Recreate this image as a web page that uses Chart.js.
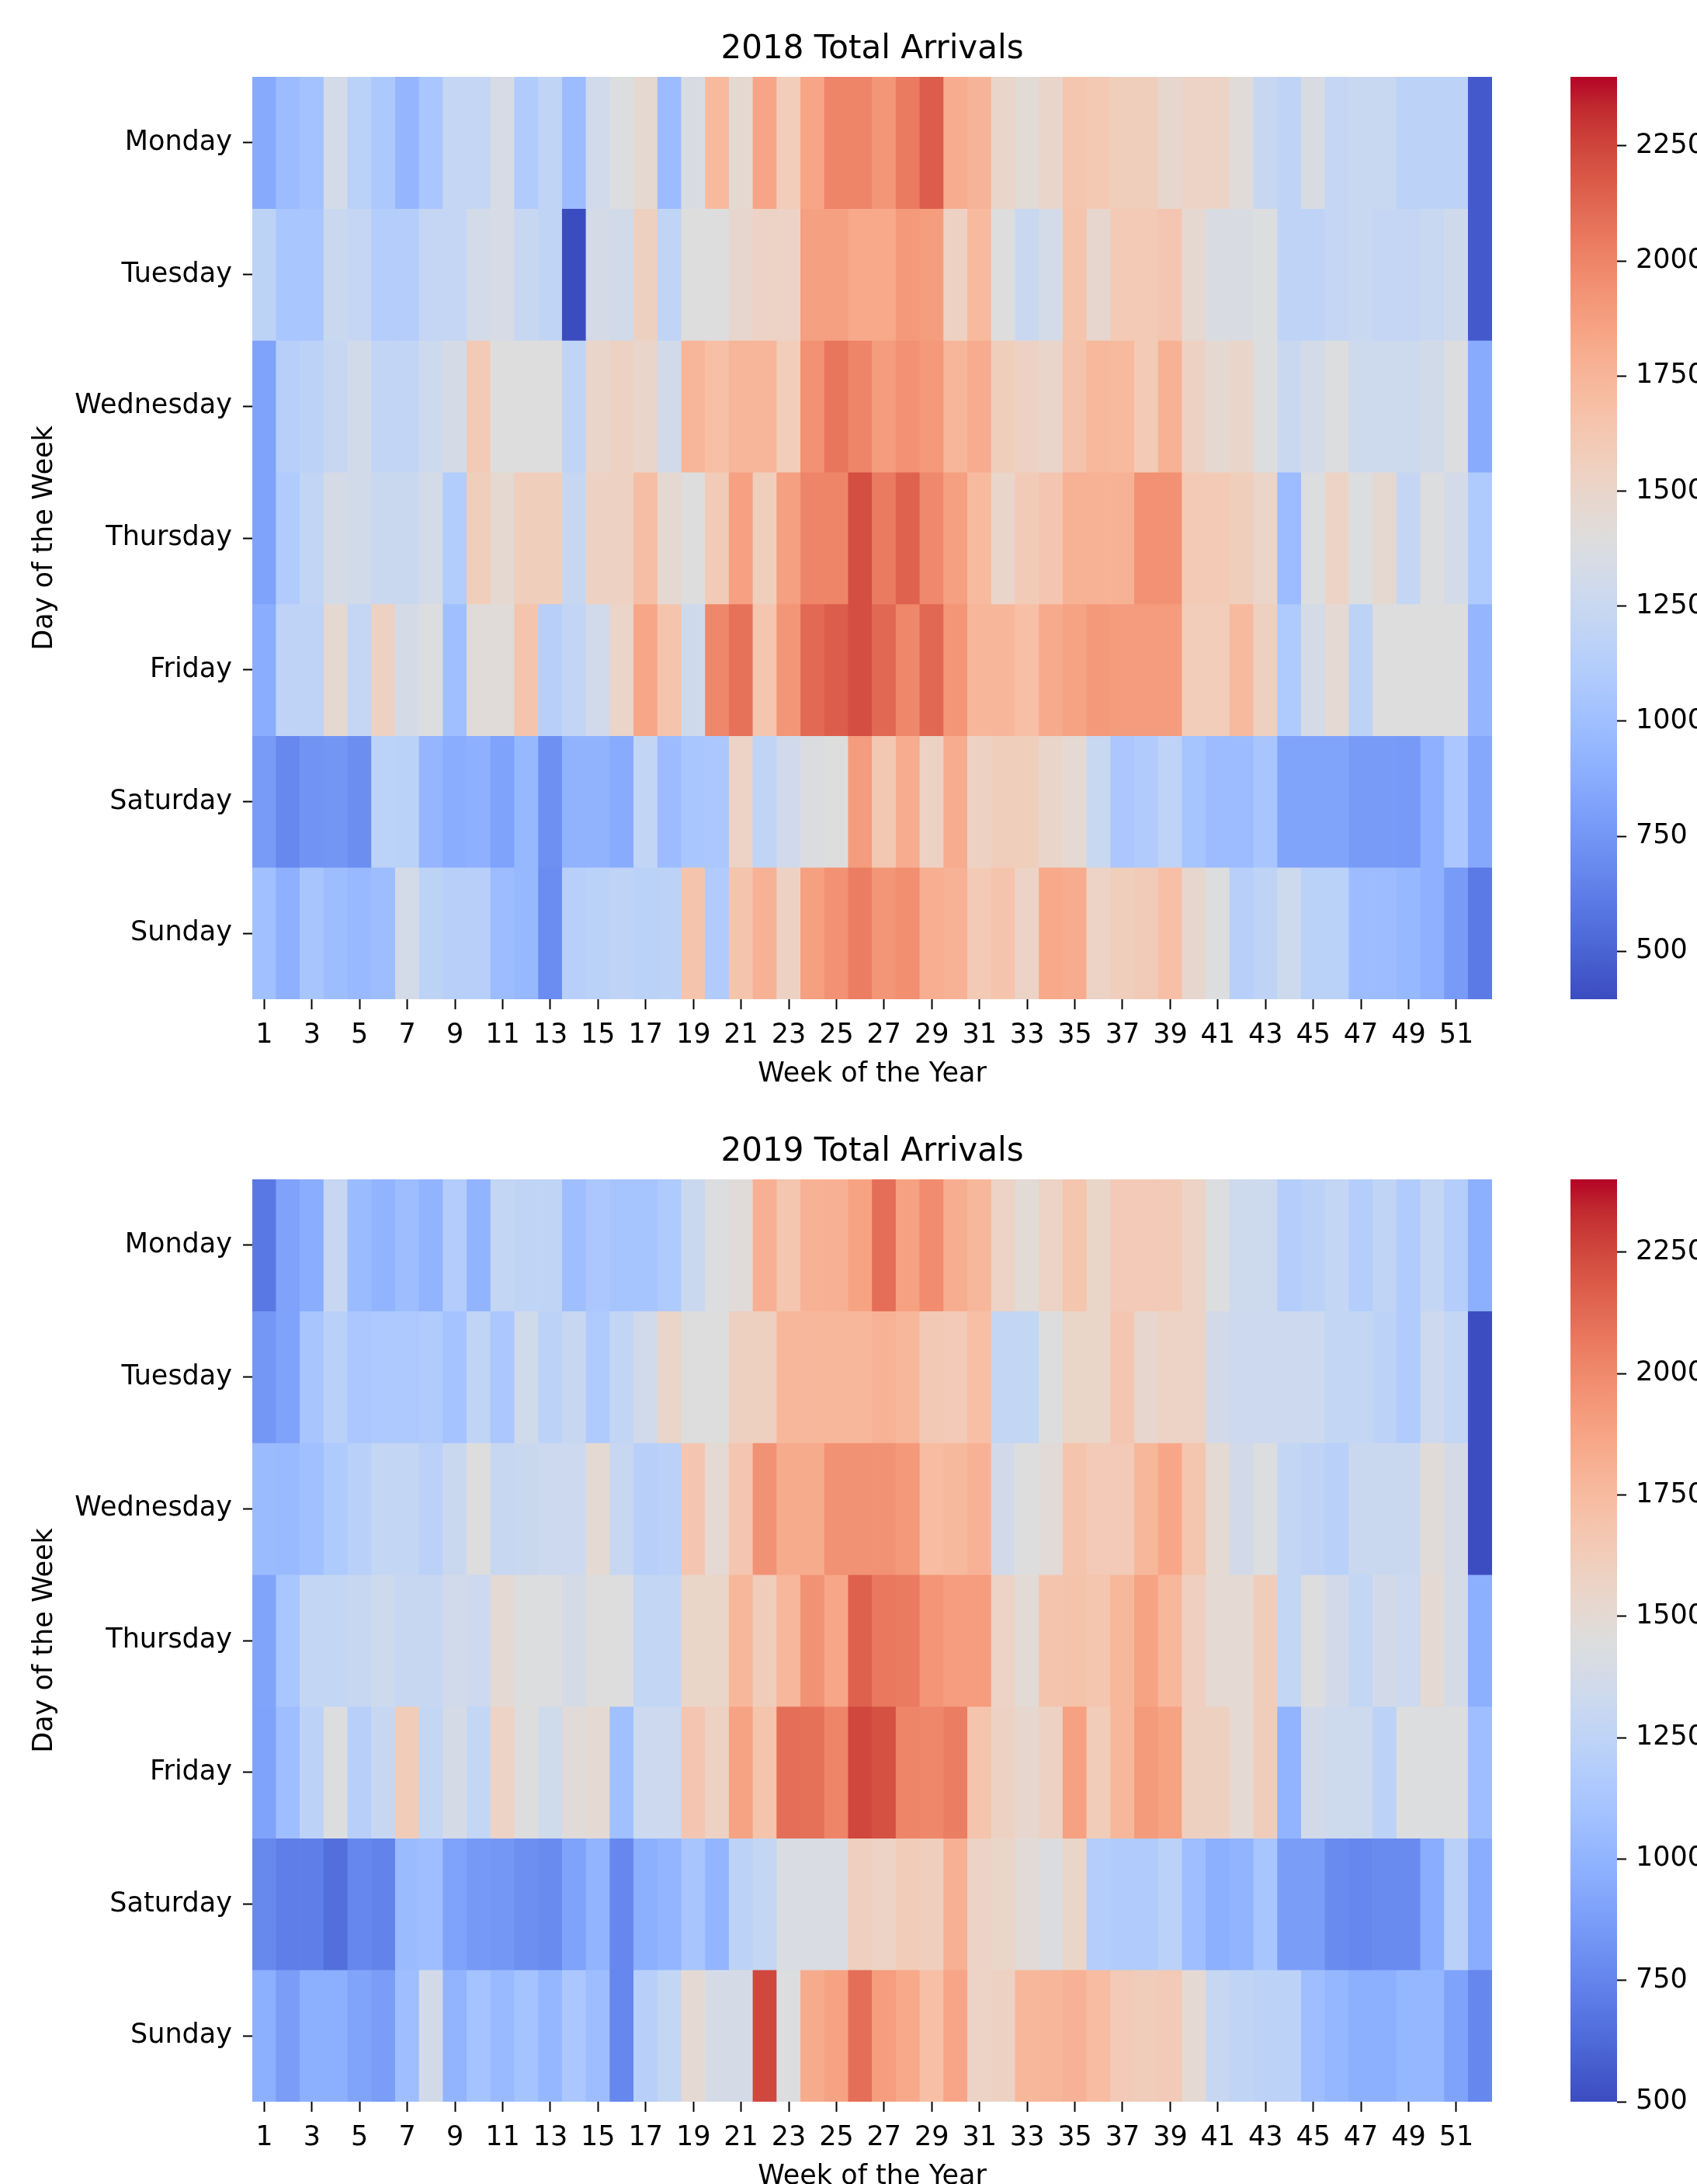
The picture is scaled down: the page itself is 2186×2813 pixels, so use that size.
<!DOCTYPE html>
<html>
<head>
<meta charset="utf-8">
<title>Total Arrivals</title>
<script src="https://cdn.jsdelivr.net/npm/chart.js@4.4.0/dist/chart.umd.min.js"></script>
<style>
  html, body { margin: 0; padding: 0; background: #fff; width: 2186px; height: 2813px; overflow: hidden; }
  .box { position: absolute; }
</style>
</head>
<body>
<div class="box" style="left:0;top:0;width:1950px;height:1420px"><canvas id="heat2018"></canvas></div>
<div class="box" style="left:2000px;top:0;width:320px;height:1420px"><canvas id="bar2018"></canvas></div>
<div class="box" style="left:0;top:1420px;width:1950px;height:1420px"><canvas id="heat2019"></canvas></div>
<div class="box" style="left:2000px;top:1420px;width:320px;height:1420px"><canvas id="bar2019"></canvas></div>

<script>
const days = ["Monday", "Tuesday", "Wednesday", "Thursday", "Friday", "Saturday", "Sunday"];
const weeks = Array.from({ length: 52 }, (_, i) => i + 1);
const colorbarTicks = [500, 750, 1000, 1250, 1500, 1750, 2000, 2250];

// 2018 arrivals, one array per weekday, weeks 1..52
const mon2018 = [860,980,1020,1320,1160,1080,940,1060,1220,1220,1340,1100,1200,980,1300,1390,1460,980,1360,1720,1460,1840,1580,1840,2000,2000,1920,2040,2160,1800,1760,1500,1440,1500,1640,1610,1570,1570,1480,1520,1520,1420,1240,1190,1360,1220,1250,1250,1170,1170,1170,460];
const tue2018 = [1180,1060,1060,1260,1220,1120,1120,1220,1220,1320,1340,1240,1200,396,1330,1310,1550,1200,1400,1400,1480,1520,1520,1870,1870,1820,1820,1900,1880,1530,1720,1400,1260,1320,1650,1480,1600,1600,1630,1460,1360,1360,1390,1190,1190,1220,1250,1220,1220,1250,1290,460];
const wed2018 = [820,1140,1170,1240,1310,1210,1210,1280,1330,1600,1400,1400,1400,1200,1500,1540,1500,1310,1740,1680,1750,1750,1580,1940,2060,2000,1890,1940,1900,1740,1800,1570,1530,1500,1660,1730,1720,1600,1770,1530,1460,1500,1390,1260,1320,1390,1280,1280,1280,1310,1390,870];
const thu2018 = [820,1100,1210,1330,1310,1260,1260,1320,1110,1570,1460,1570,1570,1240,1530,1530,1690,1460,1400,1590,1860,1570,1870,2000,2000,2220,2040,2140,1980,1870,1720,1500,1590,1630,1770,1770,1770,1940,1940,1600,1600,1570,1510,980,1390,1520,1390,1460,1220,1390,1320,1090];
const fri2018 = [880,1190,1190,1460,1220,1530,1330,1390,1000,1420,1420,1650,1140,1210,1300,1510,1830,1650,1290,1990,2080,1640,1920,2110,2160,2220,2120,1990,2120,1920,1740,1740,1680,1810,1850,1900,1890,1890,1890,1580,1580,1720,1550,1090,1330,1450,1180,1400,1400,1400,1400,940];
const sat2018 = [780,680,740,750,710,1170,1160,940,880,900,820,950,720,920,920,870,1210,980,1060,1070,1520,1200,1300,1380,1400,1890,1620,1800,1530,1800,1530,1570,1570,1500,1450,1250,1070,1100,1190,1040,980,980,1050,830,830,830,780,780,770,900,1070,850];
const sun2018 = [1010,900,1050,990,960,990,1320,1180,1140,1140,980,950,700,1140,1160,1190,1160,1170,1650,1100,1650,1770,1530,1870,1940,2030,1920,1950,1790,1770,1600,1650,1520,1820,1800,1520,1570,1590,1680,1480,1390,1140,1190,1280,1160,1160,980,980,950,900,780,610];

// 2019 arrivals
const mon2019 = [690,900,960,1300,1050,1000,1060,1000,1180,1000,1280,1260,1260,1070,1140,1110,1110,1160,1320,1440,1470,1810,1680,1800,1810,1880,2110,1890,1990,1830,1770,1570,1490,1570,1680,1550,1640,1640,1640,1570,1440,1340,1340,1190,1230,1280,1190,1260,1170,1280,1190,970];
const tue2019 = [840,900,1120,1220,1140,1150,1150,1170,1100,1260,1140,1350,1240,1300,1160,1270,1360,1550,1450,1450,1590,1590,1770,1770,1770,1770,1800,1770,1650,1640,1720,1280,1280,1450,1550,1550,1670,1530,1570,1570,1370,1330,1330,1330,1330,1280,1280,1240,1170,1330,1280,505];
const wed2019 = [1050,1040,1080,1160,1220,1280,1280,1230,1320,1450,1300,1320,1330,1330,1500,1300,1210,1230,1670,1500,1670,1960,1840,1840,1960,1960,1960,1930,1740,1760,1800,1370,1450,1480,1690,1640,1640,1770,1860,1680,1500,1370,1440,1280,1250,1220,1320,1320,1320,1470,1390,505];
const thu2019 = [910,1130,1280,1280,1300,1340,1300,1300,1360,1330,1500,1440,1440,1390,1450,1450,1280,1280,1550,1550,1770,1620,1770,1960,1860,2160,2070,2060,1950,1910,1910,1570,1490,1690,1700,1680,1770,1880,1770,1600,1500,1500,1620,1280,1450,1370,1280,1370,1330,1500,1390,970];
const fri2019 = [900,1070,1240,1440,1210,1300,1630,1280,1390,1280,1570,1450,1350,1470,1500,1080,1330,1330,1670,1580,1880,1690,2110,2100,2020,2250,2220,2020,2010,2050,1690,1580,1530,1580,1890,1630,1770,1920,1880,1590,1590,1500,1620,1000,1370,1340,1340,1240,1440,1440,1440,1070];
const sat2019 = [770,720,720,650,760,740,1050,1070,900,850,840,800,780,900,1000,760,970,1010,1120,1010,1240,1280,1420,1420,1420,1600,1570,1630,1610,1810,1570,1550,1480,1430,1550,1190,1170,1170,1230,1070,970,1000,1120,870,870,780,760,780,780,960,1220,960];
const sun2019 = [970,870,970,970,910,870,1070,1370,1000,1100,1040,1100,1020,1140,1060,760,1210,1280,1500,1390,1390,2250,1440,1840,1880,2110,1910,1850,1720,1870,1570,1580,1770,1780,1800,1740,1640,1620,1640,1500,1300,1260,1240,1240,1070,1020,970,970,1020,1020,900,760];

const rows2018 = [mon2018, tue2018, wed2018, thu2018, fri2018, sat2018, sun2018];
const rows2019 = [mon2019, tue2019, wed2019, thu2019, fri2019, sat2019, sun2019];

// coolwarm colormap, 33 stops
const coolwarmStops = [
  [59,76,192],[68,90,204],[77,104,215],[87,117,225],[98,130,234],[108,142,241],[119,154,247],[130,165,251],
  [141,176,254],[152,185,255],[163,194,255],[174,201,253],[184,208,249],[194,213,244],[204,217,238],[213,219,230],
  [221,221,221],[229,216,209],[236,211,197],[241,204,185],[245,196,173],[247,187,160],[247,177,148],[247,166,135],
  [244,154,123],[241,141,111],[236,127,99],[229,112,88],[222,96,77],[213,80,66],[203,62,56],[192,40,47],[180,4,38]
];

function coolwarm(t) {
  t = Math.max(0, Math.min(1, t));
  const pos = t * (coolwarmStops.length - 1);
  const i = Math.min(Math.floor(pos), coolwarmStops.length - 2);
  const f = pos - i;
  const a = coolwarmStops[i], b = coolwarmStops[i + 1];
  const c = a.map((v, k) => Math.round(v + (b[k] - v) * f));
  return `rgb(${c[0]},${c[1]},${c[2]})`;
}

Chart.defaults.font.family = "'DejaVu Sans', sans-serif";
Chart.defaults.color = "#000";

function showHeatmap(canvasId, title, rows, vmin, vmax) {
  const datasets = days.map((day, d) => ({
    label: day,
    data: weeks.map(() => 1),
    backgroundColor: rows[d].map(v => coolwarm((v - vmin) / (vmax - vmin))),
    borderWidth: 0,
    categoryPercentage: 1,
    barPercentage: 1
  }));

  new Chart(document.getElementById(canvasId), {
    type: "bar",
    data: { labels: weeks, datasets: datasets },
    options: {
      responsive: true,
      maintainAspectRatio: false,
      animation: false,
      layout: { padding: { left: 0, right: 28, top: 0, bottom: 0 } },
      plugins: {
        legend: { display: false },
        tooltip: { enabled: false },
        title: {
          display: true,
          text: title,
          fullSize: false,
          font: { size: 42, weight: "normal" },
          padding: { top: 39, bottom: 9.6 }
        }
      },
      scales: {
        x: {
          stacked: true,
          grid: { display: true, drawOnChartArea: false, drawTicks: true, tickLength: 13, tickWidth: 2, tickColor: "#000", offset: false },
          border: { display: false },
          ticks: { autoSkip: false, maxRotation: 0, padding: 13, font: { size: 35 } },
          afterBuildTicks: s => { s.ticks = s.ticks.filter(t => t.value % 2 === 0); },
          afterFit: s => { s.height = 133; },
          title: { display: true, text: "Week of the Year", font: { size: 35 }, padding: { top: 0, bottom: 15 } }
        },
        y: {
          stacked: true,
          reverse: true,
          min: 0,
          max: 7,
          grid: { display: true, drawOnChartArea: false, drawTicks: true, tickLength: 12, tickWidth: 2, tickColor: "#000" },
          border: { display: false },
          afterBuildTicks: s => { s.ticks = days.map((d, i) => ({ value: i + 0.5 })); },
          ticks: { padding: 14, font: { size: 35 }, callback: (v, i) => days[i] },
          afterFit: s => { s.width = 325; },
          title: { display: true, text: "Day of the Week", font: { size: 35 }, padding: { top: 37, bottom: 0 } }
        }
      }
    }
  });
}

function showColorbar(canvasId, vmin, vmax) {
  new Chart(document.getElementById(canvasId), {
    type: "bar",
    data: {
      labels: [""],
      datasets: [{
        data: [[vmin, vmax]],
        borderWidth: 0,
        categoryPercentage: 1,
        barPercentage: 1,
        backgroundColor: ctx => {
          const area = ctx.chart.chartArea;
          if (!area) return coolwarm(0.5);
          const g = ctx.chart.ctx.createLinearGradient(0, area.bottom, 0, area.top);
          coolwarmStops.forEach((c, i) => g.addColorStop(i / (coolwarmStops.length - 1), `rgb(${c[0]},${c[1]},${c[2]})`));
          return g;
        }
      }]
    },
    options: {
      responsive: true,
      maintainAspectRatio: false,
      animation: false,
      layout: { padding: { left: 23, right: 0, top: 99, bottom: 133 } },
      plugins: { legend: { display: false }, tooltip: { enabled: false } },
      scales: {
        x: { display: false },
        y: {
          position: "right",
          min: vmin,
          max: vmax,
          grid: { display: true, drawOnChartArea: false, drawTicks: true, tickLength: 12, tickWidth: 2, tickColor: "#000" },
          border: { display: false },
          afterBuildTicks: s => { s.ticks = colorbarTicks.filter(v => v >= vmin && v <= vmax).map(v => ({ value: v })); },
          ticks: { padding: 12, font: { size: 35 }, callback: v => String(v) },
          afterFit: s => { s.width = 237; }
        }
      }
    }
  });
}

showHeatmap("heat2018", "2018 Total Arrivals", rows2018, 396, 2400);
showColorbar("bar2018", 396, 2400);
showHeatmap("heat2019", "2019 Total Arrivals", rows2019, 500, 2400);
showColorbar("bar2019", 500, 2400);
</script>
</body>
</html>
